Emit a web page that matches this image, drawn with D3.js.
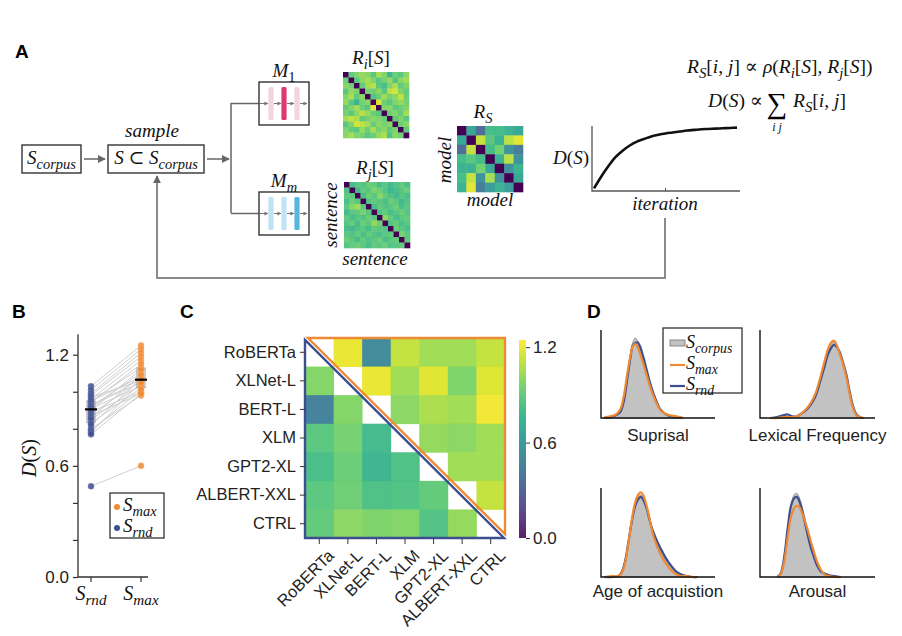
<!DOCTYPE html>
<html><head><meta charset="utf-8">
<script src="https://cdn.jsdelivr.net/npm/d3@7"></script>
<style>body{margin:0;background:#fff} svg{display:block} text{white-space:pre}</style>
</head><body>
<svg id="fig" width="902" height="636"></svg>
<script>
// ---------------- DATA ----------------
// Panel A: toy similarity matrices
const riMatrix = [
[0,.72,.78,.82,.80,.70,.85,.78,.62,.74,.70,.80],
[.74,0,.70,.80,.85,.78,.70,.76,.82,.68,.80,.84],
[.80,.75,0,.72,.84,.88,.70,.66,.78,.86,.72,.78],
[.70,.82,.78,0,.76,.74,.80,.70,.88,.92,.78,.72],
[.78,.86,.72,.80,0,.68,.74,.84,.76,.80,.90,.74],
[.82,.70,.60,.76,.80,0,.94,.74,.70,.78,.82,.76],
[.72,.78,.84,.74,.70,.96,0,.78,.80,.70,.74,.78],
[.76,.70,.80,.88,.82,.74,.70,0,.74,.80,.72,.84],
[.84,.90,.86,.72,.76,.80,.78,.74,0,.72,.78,.70],
[.70,.78,.92,.88,.84,.72,.80,.76,.80,0,.74,.80],
[.78,.72,.70,.82,.74,.86,.76,.80,.72,.78,0,.72],
[.80,.84,.78,.76,.70,.74,.82,.86,.68,.80,.76,0]];
const rjMatrix = [
[0,.66,.70,.68,.74,.72,.66,.70,.64,.68,.72,.66],
[.68,0,.64,.72,.70,.78,.74,.68,.62,.66,.70,.74],
[.72,.70,0,.66,.74,.70,.80,.72,.68,.64,.70,.66],
[.66,.74,.70,0,.68,.72,.70,.66,.74,.70,.64,.68],
[.70,.80,.84,.70,0,.66,.72,.68,.70,.74,.66,.70],
[.64,.70,.72,.76,.70,0,.68,.72,.66,.70,.74,.68],
[.72,.66,.70,.68,.74,.70,0,.80,.72,.66,.70,.72],
[.68,.72,.66,.74,.70,.82,.74,0,.68,.72,.66,.70],
[.66,.64,.68,.70,.66,.72,.70,.68,0,.74,.70,.66],
[.70,.68,.72,.66,.72,.68,.66,.70,.72,0,.76,.70],
[.74,.70,.66,.72,.68,.70,.74,.66,.70,.72,0,.72],
[.68,.72,.74,.70,.66,.72,.70,.74,.68,.70,.72,0]];
const rsMatrix = [
[0,.55,.28,.65,.65,.60,.55],
[.55,0,.90,.70,.60,.88,.95],
[.28,.90,0,.65,.75,.45,.35],
[.65,.70,.65,0,.60,.88,.45],
[.60,.60,.75,.55,0,.45,.60],
[.65,.90,.45,.85,.45,0,.55],
[.60,.95,.35,.50,.60,.50,0]];
// Panel A: optimisation curve
const iterations = [0,1,2,3,4,5,6,7,8,9,10,11,12,13,14,15,16,17,18,19,20];
const dCurve = [0.04,0.22,0.38,0.52,0.62,0.70,0.76,0.80,0.84,0.865,0.885,0.90,0.915,0.93,0.94,0.95,0.955,0.96,0.965,0.97,0.975];

// Panel B: D(S) for paired random / max sets
const groupsB = ["rnd","max"];
const dRnd = [1.03,1.01,0.99,0.98,0.97,0.96,0.95,0.95,0.94,0.93,0.92,0.92,0.91,0.90,0.89,0.88,0.87,0.86,0.85,0.83,0.82,0.80,0.79,0.78,0.77,0.49];
const dMax = [1.25,1.23,1.21,1.19,1.06,1.17,1.13,1.08,1.15,1.05,1.10,1.07,1.03,1.12,1.00,1.06,0.99,1.09,1.04,1.02,1.07,0.98,1.01,1.05,0.99,0.60];
const bTicks = [0,0.2,0.4,0.6,0.8,1.0,1.2];
const bTickLabels = ["0.0","","","0.6","","","1.2"];

// Panel C: model x model D(S); upper triangle = S_max, lower = S_rnd
const models = ["RoBERTa","XLNet-L","BERT-L","XLM","GPT2-XL","ALBERT-XXL","CTRL"];
const cMatrix = [
[null,1.20,0.52,1.12,1.05,1.05,1.12],
[0.98,null,1.20,1.05,1.18,0.97,1.17],
[0.47,0.98,null,1.00,1.07,1.05,1.22],
[0.88,0.95,0.80,null,1.02,1.00,1.05],
[0.82,0.92,0.76,0.84,null,1.05,1.05],
[0.88,0.93,0.84,0.85,0.90,null,1.12],
[0.90,1.00,0.97,0.98,0.85,1.02,null]];
const cbarTicks = [0,0.6,1.2];
const cbarLabels = ["0.0","0.6","1.2"];

// Panel D: densities (x in % of axis, y relative height)
const suprisalX      = [3,8,13,17,20,23,26,28,30,32,34,37,40,43,46,49,52,56,61,66,72];
const suprisalCorpus = [0,0.02,0.03,0.08,0.22,0.48,0.74,0.86,0.91,0.88,0.80,0.66,0.52,0.38,0.26,0.16,0.09,0.05,0.02,0.01,0];
const suprisalMax    = [0.01,0.02,0.04,0.10,0.25,0.50,0.72,0.82,0.84,0.81,0.74,0.62,0.49,0.36,0.25,0.16,0.09,0.05,0.03,0.02,0];
const suprisalRnd    = [0,0.01,0.03,0.07,0.19,0.44,0.70,0.83,0.85,0.86,0.82,0.70,0.55,0.40,0.28,0.18,0.10,0.05,0.02,0.01,0];
const lexX      = [9,15,20,24,28,32,36,40,44,48,52,56,59,62,64,66,69,72,75,78,81,84,87,90];
const lexCorpus = [0,0.01,0.02,0.02,0.01,0.02,0.05,0.09,0.16,0.26,0.42,0.62,0.76,0.84,0.86,0.84,0.74,0.62,0.48,0.28,0.12,0.04,0.01,0];
const lexMax    = [0,0,0.01,0.01,0.01,0.02,0.05,0.10,0.17,0.27,0.44,0.64,0.78,0.86,0.88,0.85,0.74,0.62,0.47,0.27,0.11,0.03,0.01,0];
const lexRnd    = [0,0.01,0.03,0.04,0.02,0.02,0.05,0.09,0.15,0.24,0.40,0.58,0.72,0.80,0.83,0.82,0.76,0.64,0.50,0.30,0.13,0.04,0.01,0];
const aoaX      = [3,10,15,18,21,24,27,30,33,35,37,40,43,46,50,54,58,62,66,70,75,80,85];
const aoaCorpus = [0,0,0.01,0.05,0.18,0.40,0.64,0.82,0.90,0.92,0.90,0.80,0.65,0.50,0.36,0.25,0.16,0.10,0.05,0.02,0.01,0,0];
const aoaMax    = [0,0.01,0.01,0.04,0.15,0.38,0.64,0.84,0.93,0.95,0.92,0.80,0.63,0.46,0.32,0.21,0.13,0.07,0.03,0.01,0.01,0,0];
const aoaRnd    = [0,0,0.01,0.05,0.17,0.39,0.62,0.80,0.88,0.90,0.87,0.77,0.62,0.50,0.38,0.28,0.19,0.12,0.06,0.03,0.01,0,0];
const arX      = [15,18,21,24,27,30,32,34,36,38,41,44,47,50,53,56,60,65,70];
const arCorpus = [0,0.04,0.22,0.55,0.82,0.93,0.94,0.90,0.82,0.72,0.56,0.40,0.26,0.14,0.07,0.03,0.01,0,0];
const arMax    = [0,0.03,0.17,0.44,0.68,0.78,0.80,0.79,0.74,0.67,0.55,0.41,0.28,0.16,0.08,0.03,0.01,0,0];
const arRnd    = [0,0.04,0.22,0.54,0.80,0.89,0.90,0.86,0.78,0.67,0.50,0.34,0.22,0.12,0.06,0.04,0.02,0.01,0];
const featureNames = ["Suprisal","Lexical Frequency","Age of acquistion","Arousal"];

// ---------------- STYLE ----------------
const SERIF = "'Liberation Serif','DejaVu Serif',serif";
const SANS = "'Liberation Sans',Arial,Helvetica,sans-serif";
const ORANGE = "#ef8a34", BLUE = "#3d4e8e", GREYL = "#666";
const MATH = 19;
const svg = d3.select("#fig");
const defs = svg.append("defs");
function marker(id, size, color) {
  defs.append("marker").attr("id", id).attr("viewBox", "0 0 10 10").attr("refX", 9).attr("refY", 5)
    .attr("markerWidth", size).attr("markerHeight", size).attr("orient", "auto")
    .append("path").attr("d", "M0,0L10,5L0,10z").attr("fill", color);
}
marker("arr", 5.5, GREYL);
marker("arrs", 4, "#777");

function mtext(parent, x, y, parts, size, anchor, transform) {
  const t = parent.append("text").attr("x", x).attr("y", y)
    .attr("font-family", SERIF).attr("font-size", size)
    .attr("text-anchor", anchor || "middle").attr("fill", "#111");
  if (transform) t.attr("transform", transform);
  let sub = false;
  parts.forEach(([s, k]) => {
    const ts = t.append("tspan").text(s);
    const isSub = (k === "s" || k === "sr");
    if (isSub && !sub) ts.attr("dy", size * 0.25);
    if (!isSub && sub) ts.attr("dy", -size * 0.25);
    if (isSub) ts.attr("font-size", size * 0.76);
    if (k === "i" || k === "s") ts.attr("font-style", "italic");
    sub = isSub;
  });
  return t;
}
function panelLabel(x, y, s) {
  svg.append("text").attr("x", x).attr("y", y).attr("font-family", SANS)
    .attr("font-weight", "bold").attr("font-size", 19).text(s);
}

// ---------------- PANEL A ----------------
panelLabel(15, 58, "A");
const gA = svg.append("g");
function box(x, y, w, h) {
  gA.append("rect").attr("x", x).attr("y", y).attr("width", w).attr("height", h)
    .attr("fill", "#fff").attr("stroke", "#333").attr("stroke-width", 1.4);
}
function arrowLine(x1, y1, x2, y2, m, w) {
  gA.append("line").attr("x1", x1).attr("y1", y1).attr("x2", x2).attr("y2", y2)
    .attr("stroke", m === "arrs" ? "#777" : GREYL).attr("stroke-width", w || 1.5)
    .attr("marker-end", m ? `url(#${m})` : null);
}
box(22, 145, 59, 28);
mtext(gA, 51.5, 164, [["S","i"],["corpus","s"]], MATH);
arrowLine(84, 159, 105, 159, "arr");
box(108, 145, 96, 28);
mtext(gA, 156, 164, [["S","i"],[" ⊂ ","r"],["S","i"],["corpus","s"]], MATH);
mtext(gA, 152, 137, [["sample","i"]], 19);
arrowLine(207, 159, 229, 159, "arr");
gA.append("path").attr("d", "M231,103V213").attr("stroke", GREYL).attr("stroke-width", 1.5).attr("fill", "none");

function modelBox(y0, label, light, dark, darkIdx) {
  const cy = y0 + 21.5;
  arrowLine(231, cy, 259, cy, null);
  box(259, y0, 50, 43);
  const bxs = [271, 284, 297];
  arrowLine(260, cy, 268, cy, "arrs", 1);
  arrowLine(274, cy, 281, cy, "arrs", 1);
  arrowLine(287, cy, 294, cy, "arrs", 1);
  arrowLine(300, cy, 307, cy, "arrs", 1);
  bxs.forEach((x, i) => {
    gA.append("rect").attr("x", x - 2.6).attr("y", y0 + 5).attr("width", 5.2).attr("height", 33)
      .attr("rx", 1.5).attr("fill", i === darkIdx ? dark : light);
  });
  mtext(gA, 284, y0 - 5, label, MATH);
}
modelBox(82, [["M","i"],["1","sr"]], "#f3d4e0", "#dc3a6c", 1);
modelBox(192, [["M","i"],["m","s"]], "#bfe2f4", "#55b6e0", 2);

function matrix(m, x0, y0, size) {
  const n = m.length;
  const sx = d3.scaleBand().domain(d3.range(n)).range([x0, x0 + size]);
  const sy = d3.scaleBand().domain(d3.range(n)).range([y0, y0 + size]);
  const col = d3.scaleSequential(d3.interpolateViridis).domain([0, 1]);
  const cells = [];
  m.forEach((row, i) => row.forEach((v, j) => cells.push({ i, j, v })));
  gA.append("g").selectAll("rect").data(cells).join("rect")
    .attr("x", d => sx(d.j)).attr("y", d => sy(d.i))
    .attr("width", sx.bandwidth() + 0.3).attr("height", sy.bandwidth() + 0.3)
    .attr("fill", d => col(d.v)).attr("opacity", d => d.v === 0 ? 1 : 0.88);
}
matrix(riMatrix, 343, 72, 66);
matrix(rjMatrix, 344, 182, 66);
matrix(rsMatrix, 457, 126, 66);
mtext(gA, 371, 64, [["R","i"],["i","s"],["[","r"],["S","i"],["]","r"]], MATH);
mtext(gA, 375, 174, [["R","i"],["j","s"],["[","r"],["S","i"],["]","r"]], MATH);
mtext(gA, 483, 118, [["R","i"],["S","s"]], MATH);
mtext(gA, 0, 0, [["model","i"]], 19, "middle", "translate(451,160) rotate(-90)");
mtext(gA, 490, 206, [["model","i"]], 19);
mtext(gA, 0, 0, [["sentence","i"]], 19, "middle", "translate(337,215) rotate(-90)");
mtext(gA, 375, 265, [["sentence","i"]], 19);

// D(S) vs iteration
const xIt = d3.scaleLinear().domain([0, 20]).range([594, 737]);
const yIt = d3.scaleLinear().domain([0, 1]).range([191, 126]);
gA.append("path").attr("d", "M592,126V191H740").attr("fill", "none").attr("stroke", "#555").attr("stroke-width", 1.3);
gA.append("line").attr("x1", xIt(10)).attr("x2", xIt(10)).attr("y1", 191).attr("y2", 188).attr("stroke", "#555");
gA.append("path").datum(iterations.map((d, i) => [d, dCurve[i]]))
  .attr("d", d3.line().x(d => xIt(d[0])).y(d => yIt(d[1])).curve(d3.curveMonotoneX))
  .attr("fill", "none").attr("stroke", "#111").attr("stroke-width", 2.6);
mtext(gA, 589, 164, [["D","i"],["(","r"],["S","i"],[")","r"]], MATH, "end");
mtext(gA, 665, 210, [["iteration","i"]], 19);

// equations
mtext(gA, 687, 73, [["R","i"],["S","s"],["[","r"],["i","i"],[", ","r"],["j","i"],["] ∝ ","r"],["ρ","i"],["(","r"],["R","i"],["i","s"],["[","r"],["S","i"],["], ","r"],["R","i"],["j","s"],["[","r"],["S","i"],["])","r"]], 19.5, "start");
mtext(gA, 763, 107, [["D","i"],["(","r"],["S","i"],[") ∝","r"]], 19.5, "end");
gA.append("text").attr("x", 777).attr("y", 113).attr("text-anchor", "middle")
  .attr("font-family", SERIF).attr("font-size", 29).text("∑");
mtext(gA, 777, 131, [["i j","i"]], 12);
mtext(gA, 793, 107, [["R","i"],["S","s"],["[","r"],["i","i"],[", ","r"],["j","i"],["]","r"]], 19.5, "start");

// feedback loop
gA.append("path").attr("d", "M665,218V278H157V176").attr("fill", "none")
  .attr("stroke", GREYL).attr("stroke-width", 1.5).attr("marker-end", "url(#arr)");

// ---------------- PANEL B ----------------
panelLabel(12, 318, "B");
const gB = svg.append("g");
const yB = d3.scaleLinear().domain([0, 1.2]).range([577, 354.7]);
const xB = d3.scalePoint().domain(groupsB).range([91, 141]);
gB.append("g").attr("transform", "translate(78,0)")
  .call(d3.axisLeft(yB).tickValues(bTicks).tickFormat((d, i) => bTickLabels[i]).tickSize(5).tickPadding(4).tickSizeOuter(0))
  .call(g => g.select(".domain").remove())
  .call(g => g.selectAll("line").attr("stroke", "#333").attr("stroke-width", 1.2))
  .call(g => g.selectAll("text").attr("font-family", SANS).attr("font-size", 17).attr("fill", "#222"));
gB.append("path").attr("d", `M78,${yB(1.31)}V577H148`).attr("fill", "none").attr("stroke", "#333").attr("stroke-width", 1.3);
groupsB.forEach(g => gB.append("line").attr("x1", xB(g)).attr("x2", xB(g)).attr("y1", 577).attr("y2", 582).attr("stroke", "#333").attr("stroke-width", 1.2));
mtext(gB, xB("rnd"), 600, [["S","i"],["rnd","s"]], 20);
mtext(gB, xB("max"), 600, [["S","i"],["max","s"]], 20);
mtext(gB, 0, 0, [["D","i"],["(","r"],["S","i"],[")","r"]], 20, "middle", "translate(36,458) rotate(-90)");
// pair lines
gB.append("g").selectAll("line").data(dRnd.map((d, i) => [d, dMax[i]])).join("line")
  .attr("x1", xB("rnd")).attr("x2", xB("max")).attr("y1", d => yB(d[0])).attr("y2", d => yB(d[1]))
  .attr("stroke", "#cfcfcf").attr("stroke-width", 1);
// boxes
[["rnd", dRnd], ["max", dMax]].forEach(([g, arr]) => {
  const s = arr.slice().sort(d3.ascending);
  const q1 = d3.quantile(s, 0.25), q3 = d3.quantile(s, 0.75), med = d3.quantile(s, 0.5);
  gB.append("rect").attr("x", xB(g) - 4).attr("width", 8).attr("y", yB(q3)).attr("height", yB(q1) - yB(q3))
    .attr("fill", "none").attr("stroke", "#999").attr("stroke-width", 1);
  gB.selectAll(null).data(arr).join("circle").attr("cx", xB(g)).attr("cy", d => yB(d)).attr("r", 3)
    .attr("fill", g === "rnd" ? BLUE : ORANGE).attr("fill-opacity", 0.85)
    .attr("stroke", g === "rnd" ? "#6d7ab0" : "#f5b070").attr("stroke-width", 0.6);
  gB.append("line").attr("x1", xB(g) - 6).attr("x2", xB(g) + 6).attr("y1", yB(med)).attr("y2", yB(med))
    .attr("stroke", "#000").attr("stroke-width", 2.2);
});
// legend B
gB.append("rect").attr("x", 110).attr("y", 493).attr("width", 54).attr("height", 45)
  .attr("fill", "#fff").attr("stroke", "#333").attr("stroke-width", 1.3);
gB.append("circle").attr("cx", 117).attr("cy", 507).attr("r", 3).attr("fill", ORANGE);
gB.append("circle").attr("cx", 117).attr("cy", 528).attr("r", 3).attr("fill", BLUE);
mtext(gB, 123, 511, [["S","i"],["max","s"]], 19, "start");
mtext(gB, 123, 532, [["S","i"],["rnd","s"]], 19, "start");

// ---------------- PANEL C ----------------
panelLabel(180, 318, "C");
const gC = svg.append("g");
const xC = d3.scaleBand().domain(models).range([305, 505]);
const yC = d3.scaleBand().domain(models).range([338, 538]);
const colC = d3.scaleSequential(d3.interpolateViridis).domain([0, 1.245]);
const cCells = [];
cMatrix.forEach((row, i) => row.forEach((v, j) => { if (v !== null) cCells.push({ r: models[i], c: models[j], v }); }));
gC.append("g").selectAll("rect").data(cCells).join("rect")
  .attr("x", d => xC(d.c)).attr("y", d => yC(d.r))
  .attr("width", xC.bandwidth() + 0.4).attr("height", yC.bandwidth() + 0.4)
  .attr("fill", d => colC(d.v)).attr("fill-opacity", 0.88);
// triangle outlines
gC.append("path").attr("d", `M${xC.range()[0] + 3},338H505V${538 - 4}Z`).attr("fill", "none")
  .attr("stroke", ORANGE).attr("stroke-width", 2.4).attr("stroke-linejoin", "miter");
gC.append("path").attr("d", `M305,${338 + 2}V538H${505 - 1}Z`).attr("fill", "none")
  .attr("stroke", BLUE).attr("stroke-width", 2.4);
gC.append("g").attr("transform", "translate(305,0)")
  .call(d3.axisLeft(yC).tickSize(5).tickPadding(4).tickSizeOuter(0))
  .call(g => g.select(".domain").remove())
  .call(g => g.selectAll("line").attr("stroke", "#333"))
  .call(g => g.selectAll("text").attr("font-family", SANS).attr("font-size", 16.5).attr("fill", "#222"));
const bxC = gC.append("g").attr("transform", "translate(0,539)")
  .call(d3.axisBottom(xC).tickSize(5).tickSizeOuter(0))
  .call(g => g.select(".domain").remove())
  .call(g => g.selectAll("line").attr("stroke", "#333"));
bxC.selectAll("text").attr("font-family", SANS).attr("font-size", 16.5).attr("fill", "#222")
  .attr("text-anchor", "end").attr("y", 0).attr("dy", "0.75em")
  .attr("transform", "translate(7,9) rotate(-45)");
// colorbar
const grad = defs.append("linearGradient").attr("id", "vir").attr("x1", 0).attr("x2", 0).attr("y1", 1).attr("y2", 0);
d3.range(0, 1.001, 0.1).forEach(t => grad.append("stop").attr("offset", t).attr("stop-color", d3.interpolateViridis(t)));
const yCb = d3.scaleLinear().domain([0, 1.245]).range([538, 340]);
gC.append("rect").attr("x", 519).attr("y", yCb(1.245)).attr("width", 7).attr("height", yCb(0) - yCb(1.245))
  .attr("fill", "url(#vir)").attr("fill-opacity", 0.88);
gC.append("g").attr("transform", "translate(526,0)")
  .call(d3.axisRight(yCb).tickValues(cbarTicks).tickFormat((d, i) => cbarLabels[i]).tickSize(4).tickPadding(3).tickSizeOuter(0))
  .call(g => g.select(".domain").remove())
  .call(g => g.selectAll("line").attr("stroke", "#333"))
  .call(g => g.selectAll("text").attr("font-family", SANS).attr("font-size", 17).attr("fill", "#222"));

// ---------------- PANEL D ----------------
panelLabel(587, 318, "D");
const gD = svg.append("g");
const dSeries = [
  [suprisalX, suprisalCorpus, suprisalMax, suprisalRnd],
  [lexX, lexCorpus, lexMax, lexRnd],
  [aoaX, aoaCorpus, aoaMax, aoaRnd],
  [arX, arCorpus, arMax, arRnd]];
const dLayout = [
  { x0: 601, x1: 715, yb: 418, yt: 330, ly: 441 },
  { x0: 760, x1: 875, yb: 418, yt: 330, ly: 441 },
  { x0: 601, x1: 715, yb: 577, yt: 488, ly: 597 },
  { x0: 760, x1: 875, yb: 577, yt: 488, ly: 597 }];
dSeries.forEach(([xs, c, m, r], k) => {
  const L = dLayout[k];
  const x = d3.scaleLinear().domain([0, 100]).range([L.x0, L.x1]);
  const y = d3.scaleLinear().domain([0, 1]).range([L.yb, L.yt]);
  const pts = arr => xs.map((v, i) => [v, arr[i]]);
  gD.append("path").datum(pts(c))
    .attr("d", d3.area().x(d => x(d[0])).y0(L.yb).y1(d => y(d[1])).curve(d3.curveCatmullRom))
    .attr("fill", "#c2c2c2").attr("stroke", "#999").attr("stroke-width", 1);
  const line = d3.line().x(d => x(d[0])).y(d => y(d[1])).curve(d3.curveCatmullRom);
  gD.append("path").datum(pts(r)).attr("d", line).attr("fill", "none").attr("stroke", BLUE).attr("stroke-width", 2.2);
  gD.append("path").datum(pts(m)).attr("d", line).attr("fill", "none").attr("stroke", ORANGE).attr("stroke-width", 2.2);
  gD.append("path").attr("d", `M${L.x0},${L.yt}V${L.yb}H${L.x1}`).attr("fill", "none").attr("stroke", "#111").attr("stroke-width", 1.4);
  gD.append("text").attr("x", (L.x0 + L.x1) / 2).attr("y", L.ly).attr("text-anchor", "middle")
    .attr("font-family", SANS).attr("font-size", 17).attr("fill", "#222").text(featureNames[k]);
});
// legend D
gD.append("rect").attr("x", 663).attr("y", 328).attr("width", 79).attr("height", 65)
  .attr("fill", "#fff").attr("stroke", "#333").attr("stroke-width", 1.3);
gD.append("rect").attr("x", 670).attr("y", 340).attr("width", 15).attr("height", 6).attr("fill", "#c2c2c2").attr("stroke", "#888");
gD.append("line").attr("x1", 670).attr("x2", 685).attr("y1", 365).attr("y2", 365).attr("stroke", ORANGE).attr("stroke-width", 2.2);
gD.append("line").attr("x1", 670).attr("x2", 685).attr("y1", 386).attr("y2", 386).attr("stroke", BLUE).attr("stroke-width", 2.2);
mtext(gD, 686, 348, [["S","i"],["corpus","s"]], 18, "start");
mtext(gD, 686, 369, [["S","i"],["max","s"]], 18, "start");
mtext(gD, 686, 390, [["S","i"],["rnd","s"]], 18, "start");
</script>
</body></html>
